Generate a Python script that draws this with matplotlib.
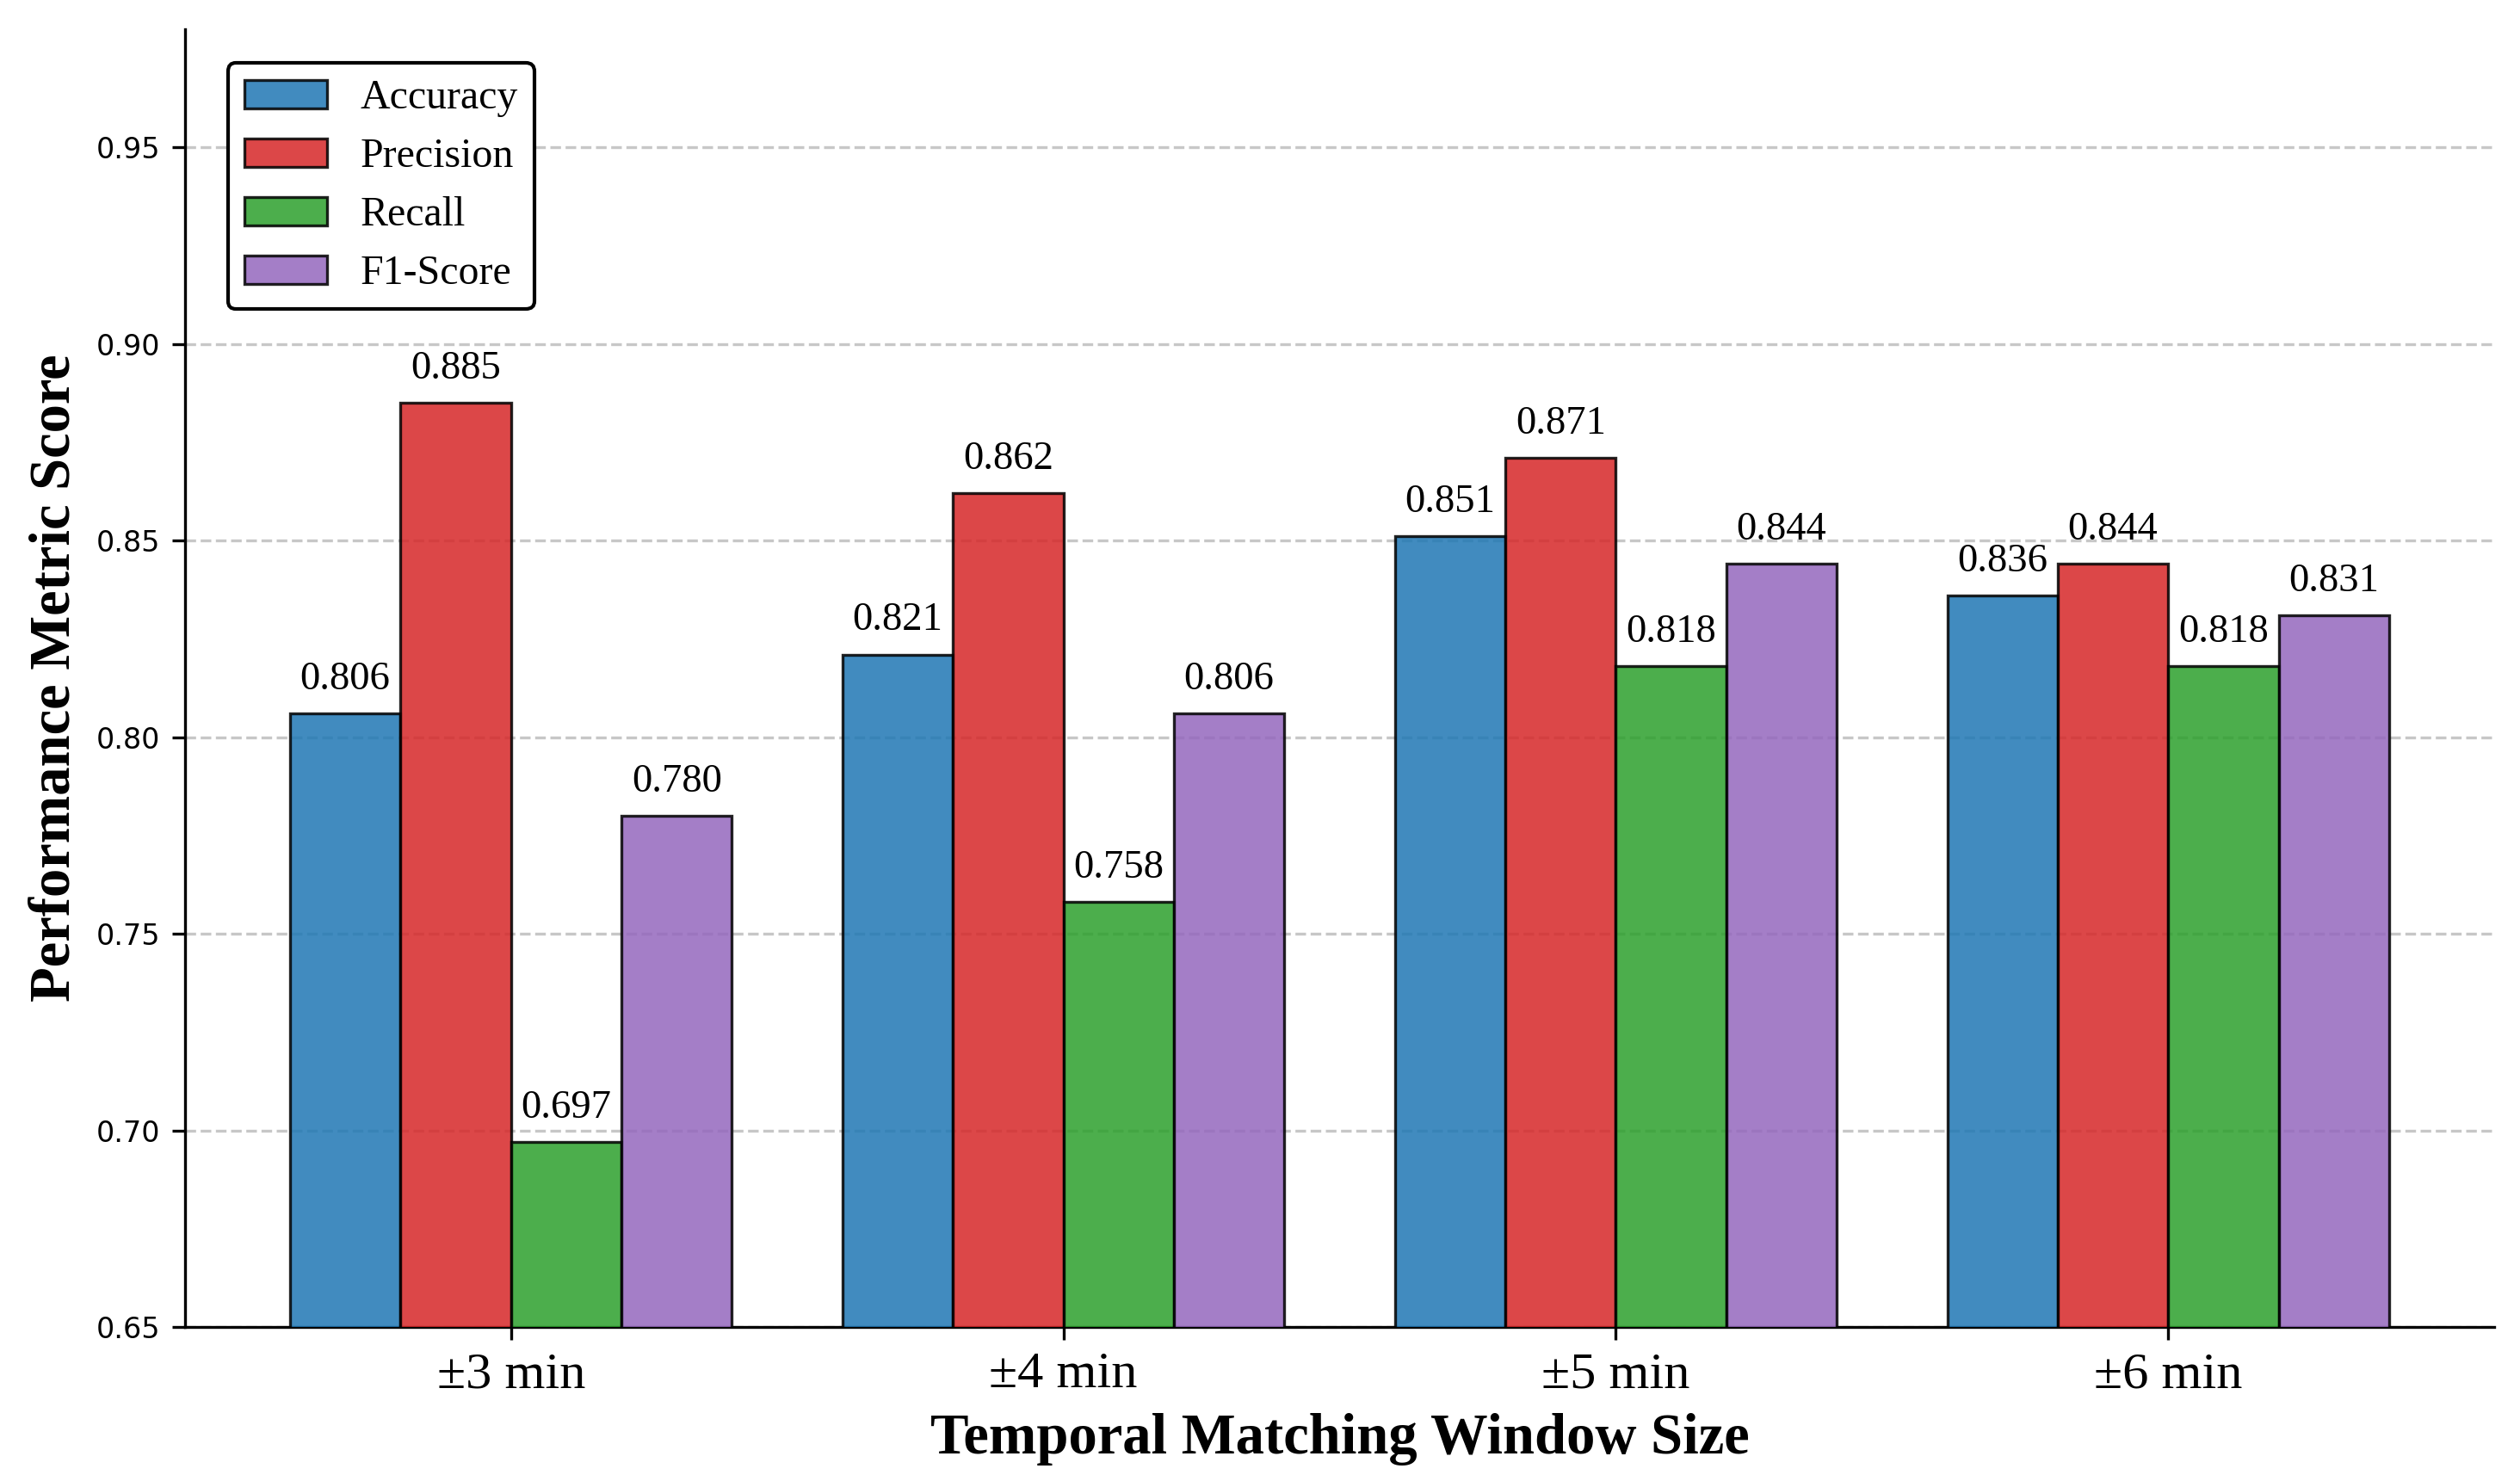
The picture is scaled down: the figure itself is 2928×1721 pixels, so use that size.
import matplotlib
matplotlib.use('Agg')
import matplotlib.pyplot as plt
import numpy as np

# ---- data ----
windows = ['±3 min', '±4 min', '±5 min', '±6 min']
metrics = ['Accuracy', 'Precision', 'Recall', 'F1-Score']
accuracy = [0.806, 0.821, 0.851, 0.836]
precision = [0.885, 0.862, 0.871, 0.844]
recall = [0.697, 0.758, 0.818, 0.818]
f1_score = [0.780, 0.806, 0.844, 0.831]
series = [accuracy, precision, recall, f1_score]
colors = ['#1f77b4', '#d62728', '#2ca02c', '#9467bd']
yticks = [0.65, 0.70, 0.75, 0.80, 0.85, 0.90, 0.95]

SERIF = 'Liberation Serif'

fig = plt.figure(figsize=(2928 / 300, 1721 / 300), dpi=300)
ax = fig.add_axes([215 / 2928, 1 - 1542 / 1721, (2898 - 215) / 2928, (1542 - 34) / 1721])

x = np.arange(len(windows))
width = 0.2
for i, (name, vals, c) in enumerate(zip(metrics, series, colors)):
    pos = x + (i - 1.5) * width
    bars = ax.bar(pos, vals, width, label=name, color=c, alpha=0.85,
                  edgecolor='black', linewidth=0.8, zorder=3)
    for b, v in zip(bars, vals):
        ax.text(b.get_x() + b.get_width() / 2, v + 0.004, f'{v:.3f}',
                ha='center', va='bottom', fontsize=11.2, family=SERIF, zorder=4)

ax.set_ylim(0.65, 0.98)
ax.set_yticks(yticks)
ax.set_yticklabels([f'{t:.2f}' for t in yticks])
ax.tick_params(axis='y', labelsize=8)
ax.set_xticks(x)
ax.set_xticklabels(windows, fontsize=14.5, family=SERIF)

ax.set_xlabel('Temporal Matching Window Size', fontsize=16, fontweight='bold',
              family=SERIF)
ax.set_ylabel('Performance Metric Score', fontsize=16, fontweight='bold', family=SERIF)

ax.grid(axis='y', linestyle='--', alpha=0.7, zorder=0)
ax.set_axisbelow(True)
ax.spines['top'].set_visible(False)
ax.spines['right'].set_visible(False)

leg = ax.legend(loc='upper left', bbox_to_anchor=(0.0186, 0.974), borderaxespad=0,
                prop={'family': SERIF, 'size': 11.5}, frameon=True, fancybox=True,
                framealpha=1.0, edgecolor='black')
leg.get_frame().set_linewidth(1.0)

fig.savefig('out.png', dpi=300)
